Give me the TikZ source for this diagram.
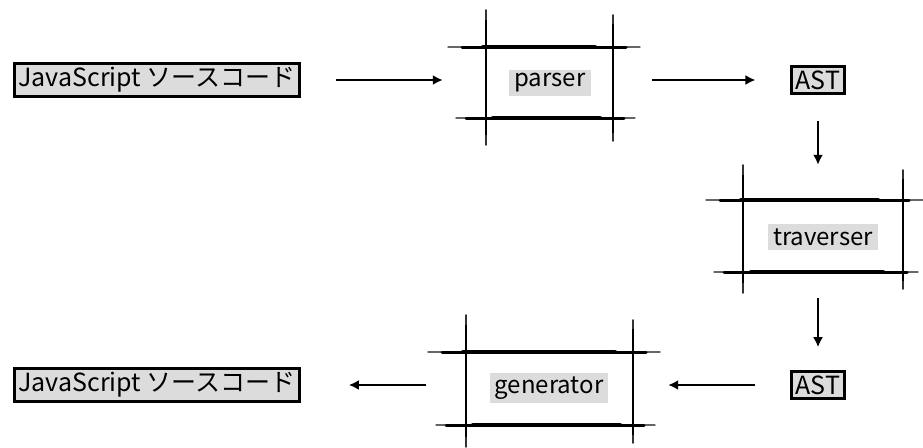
\documentclass[tikz,border=0pt]{standalone}
\usepackage{fontspec}
\setmainfont{Noto Sans CJK JP}
\usetikzlibrary{arrows.meta}
\definecolor{boxgray}{HTML}{DCDCDC}
\tikzset{
  src/.style={draw=black, line width=2.6pt, fill=boxgray, inner xsep=4pt, inner ysep=4pt, font=\fontsize{25}{27}\selectfont},
  lbl/.style={fill=boxgray, inner xsep=5pt, inner ysep=4pt, font=\fontsize{24}{26}\selectfont},
  frame/.style={inner sep=0pt},
  conn/.style={line width=2pt, -{Latex[length=10pt,width=10pt]}},
  skthin/.style={line width=1.4pt, line cap=round, black!60},
  skvthin/.style={line width=1.8pt, line cap=round, black!80},
  skmid/.style={line width=3pt, line cap=round},
  skthick/.style={line width=4.2pt, line cap=round},
  skvert/.style={line width=2.6pt, line cap=butt},
}
\newcommand{\skbox}[8]{%
  % #1 x1, #2 x2, #3 y1, #4 y2, #5 hleft, #6 hright, #7 vtop, #8 vbot
  \draw[skthin] (#1-#5,#3) -- (#2+#6,#3);
  \draw[skthin] (#1-#5+8,#4) -- (#2+#6-5,#4);
  \draw[skmid] (#1-#5+14,#3) -- (#2+#6-14,#3);
  \draw[skmid] (#1-#5+18,#4) -- (#2+#6-16,#4);
  \draw[skthick] (#1-#5+35,#3) -- (#2+#6-45,#3);
  \draw[skthick] (#1-#5+45,#4) -- (#2+#6-40,#4);
  \draw[skvthin] (#1,#3-#7) -- (#1,#4+#8);
  \draw[skvthin] (#2,#3-#7+5) -- (#2,#4+#8-4);
  \draw[skvert] (#1,#3-#7+10) -- (#1,#4+#8-10);
  \draw[skvert] (#2,#3-#7+14) -- (#2,#4+#8-12);
}
\begin{document}
\begin{tikzpicture}[x=1pt,y=-1pt]
\useasboundingbox (0,0) rectangle (923,447);
% source boxes
\node[src] (js1) at (157,80) {JavaScript ソースコード};
\node[src] (ast1) at (818,80) {AST};
\node[src] (ast2) at (818,385) {AST};
\node[src] (js2) at (157,385) {JavaScript ソースコード};
% sketch boxes
\skbox{486}{613}{47}{118}{38}{27}{37}{27}
\node[lbl] (parser) at (550,83) {parser};
\node[frame, minimum width=192pt, minimum height=135pt] (pf) at (544,77.5) {};
\skbox{743}{903}{200}{272}{37}{20}{35}{21}
\node[lbl] (trav) at (823,237) {traverser};
\node[frame, minimum width=217pt, minimum height=128pt] (tf) at (814.5,229) {};
\skbox{466}{633}{352}{425}{38}{27}{37}{22}
\node[lbl] (gen) at (549,388) {generator};
\node[frame, minimum width=232pt, minimum height=132pt] (gf) at (544,381) {};
% connectors
\draw[conn, shorten <=35pt, shorten >=5pt] (js1.east) -- (js1.east -| pf.west);
\draw[conn, shorten <=12pt, shorten >=35pt] (pf.east |- ast1.west) -- (ast1.west);
\draw[conn, shorten <=26pt, shorten >=0pt] (ast1.south) -- (ast1.south |- tf.north);
\draw[conn, shorten <=5pt, shorten >=23pt] (tf.south -| ast2.north) -- (ast2.north);
\draw[conn, shorten <=35pt, shorten >=8pt] (ast2.west) -- (ast2.west -| gf.east);
\draw[conn, shorten <=2pt, shorten >=48pt] (gf.west |- js2.east) -- (js2.east);
\end{tikzpicture}
\end{document}
